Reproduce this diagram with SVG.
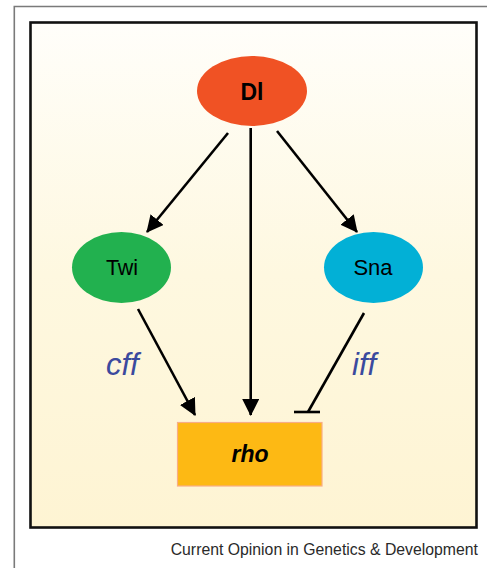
<svg xmlns="http://www.w3.org/2000/svg" width="487" height="568" viewBox="0 0 487 568">
  <defs>
    <linearGradient id="panelFill" x1="0" y1="0" x2="0" y2="1">
      <stop offset="0" stop-color="#fffefa"/>
      <stop offset="0.5" stop-color="#fef8e0"/>
      <stop offset="1" stop-color="#fef4d3"/>
    </linearGradient>
    <marker id="arrowHead" markerUnits="userSpaceOnUse" markerWidth="17" markerHeight="17" refX="16" refY="8.5" orient="auto">
      <path d="M0,0 L17,8.5 L0,17 Z" fill="#000"/>
    </marker>
    <marker id="barHead" markerUnits="userSpaceOnUse" markerWidth="4" markerHeight="28" refX="2" refY="14" orient="auto">
      <path d="M2,1 L2,27" stroke="#000" stroke-width="2.5"/>
    </marker>
  </defs>
  <style>
    .node-label { font-family: "Liberation Sans", Arial, sans-serif; fill: #000; text-anchor: middle; }
    .edge { stroke: #000; stroke-width: 2.6; fill: none; }
    .loop-label { font-family: "Liberation Sans", Arial, sans-serif; font-style: italic; font-size: 31px; fill: #3b4a9e; }
  </style>

  <!-- page frame -->
  <rect x="0" y="0" width="487" height="568" fill="#ffffff"/>
  <path d="M14.3,568 L14.3,6.5 L487,6.5" fill="none" stroke="#7a7a7a" stroke-width="1.6"/>

  <!-- figure panel -->
  <rect x="30.5" y="22.5" width="446" height="505" fill="url(#panelFill)" stroke="#111" stroke-width="2.6"/>

  <!-- connectors -->
  <g id="connectors">
    <line class="edge" x1="228" y1="133" x2="147" y2="232" marker-end="url(#arrowHead)"/>
    <line class="edge" x1="277" y1="131" x2="357" y2="232" marker-end="url(#arrowHead)"/>
    <line class="edge" x1="250.7" y1="128" x2="250.7" y2="415" marker-end="url(#arrowHead)"/>
    <line class="edge" x1="138" y1="309" x2="195" y2="415" marker-end="url(#arrowHead)"/>
    <line class="edge" x1="364" y1="313" x2="308" y2="412"/>
    <line class="edge" x1="294" y1="412" x2="320" y2="412"/>
  </g>

  <!-- nodes -->
  <g id="node-dl">
    <ellipse cx="252" cy="91" rx="55" ry="35" fill="#f05224"/>
    <text class="node-label" x="252" y="100" font-size="23" font-weight="bold">Dl</text>
  </g>
  <g id="node-twi">
    <ellipse cx="121.5" cy="267.5" rx="49.5" ry="35.5" fill="#22b14f"/>
    <text class="node-label" x="122" y="275" font-size="21.5">Twi</text>
  </g>
  <g id="node-sna">
    <ellipse cx="373.5" cy="267.5" rx="49.5" ry="35.5" fill="#02b0d6"/>
    <text class="node-label" x="373" y="275" font-size="22">Sna</text>
  </g>
  <g id="node-rho">
    <rect x="177.5" y="422.5" width="144.5" height="63.5" fill="#fdb914" stroke="#f8ad86" stroke-width="1.2"/>
    <text class="node-label" x="250" y="462" font-size="23" font-weight="bold" font-style="italic">rho</text>
  </g>

  <!-- loop labels -->
  <text class="loop-label" x="106" y="375">cff</text>
  <text class="loop-label" x="352" y="375">iff</text>

  <!-- caption -->
  <text x="478" y="555" font-family="'Liberation Sans', Arial, sans-serif" font-size="15.8" fill="#2a2a2a" text-anchor="end">Current Opinion in Genetics &amp; Development</text>
</svg>
